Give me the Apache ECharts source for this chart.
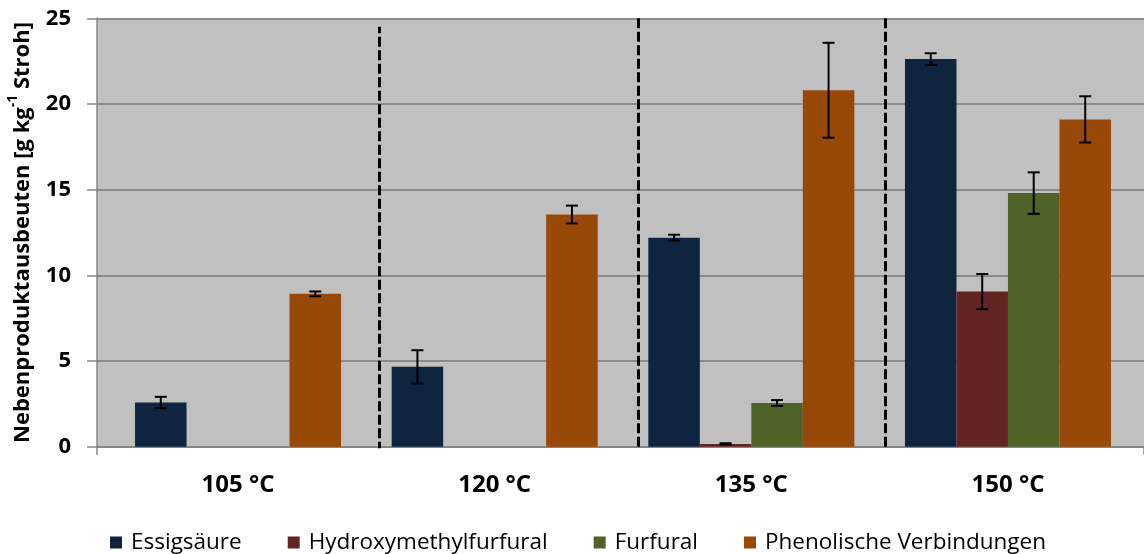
<!DOCTYPE html>
<html>
<head>
<meta charset="utf-8">
<script src="https://cdn.jsdelivr.net/npm/echarts@6/dist/echarts.min.js"></script>
<style>html,body{margin:0;padding:0;background:#fff}#c{width:1144px;height:554px}</style>
</head>
<body>
<div id="c"></div>
<script>
// ---- data ----
const categories = ['105 °C', '120 °C', '135 °C', '150 °C'];
const seriesNames = ['Essigsäure', 'Hydroxymethylfurfural', 'Furfural', 'Phenolische Verbindungen'];
const essig = [2.58, 4.66, 12.2, 22.62];
const hmf = [0, 0, 0.16, 9.05];
const furfural = [0, 0, 2.55, 14.8];
const phenol = [8.92, 13.55, 20.8, 19.1];
const errEssig = [0.33, 0.97, 0.17, 0.34];
const errHmf = [null, null, 0.04, 1.03];
const errFurfural = [null, null, 0.17, 1.21];
const errPhenol = [0.14, 0.52, 2.77, 1.35];
const yTicks = [0, 5, 10, 15, 20, 25];
// separators between temperature groups (category units, y range)
const separators = [[1.05, -0.3, 24.5], [2.06, 0, 25.2], [3.02, 0, 25.2]];

const colors = ['#0F243E', '#632523', '#4F6228', '#984807'];
const values = [essig, hmf, furfural, phenol];
const errors = [errEssig, errHmf, errFurfural, errPhenol];
const BW = 51.5;
const FONT = '"Open Sans", "Noto Sans", sans-serif';

const chart = echarts.init(document.getElementById('c'), null, {renderer: 'canvas'});

const series = [];
values.forEach((v, i) => {
  series.push({
    name: seriesNames[i], type: 'bar', xAxisIndex: 1, yAxisIndex: 1,
    data: v, barWidth: BW, barGap: '0%',
    itemStyle: {color: colors[i]}, z: 3, silent: true
  });
});
errors.forEach((e, i) => {
  const d = [];
  e.forEach((err, c) => { if (err !== null) d.push([c, values[i][c], err]); });
  series.push({
    type: 'custom', xAxisIndex: 1, yAxisIndex: 1, z: 5, silent: true,
    data: d,
    renderItem: function (params, api) {
      const c = api.value(0), v = api.value(1), er = api.value(2);
      const off = (i - 1.5) * BW;
      const top = api.coord([c, v + er]);
      const bot = api.coord([c, v - er]);
      const x = top[0] + off;
      const cap = 6;
      const st = {stroke: '#000', lineWidth: 2};
      return {type: 'group', children: [
        {type: 'line', shape: {x1: x, y1: top[1], x2: x, y2: bot[1]}, style: st},
        {type: 'line', shape: {x1: x - cap, y1: top[1], x2: x + cap, y2: top[1]}, style: st},
        {type: 'line', shape: {x1: x - cap, y1: bot[1], x2: x + cap, y2: bot[1]}, style: st}
      ]};
    }
  });
});
series.push({
  type: 'lines', coordinateSystem: 'cartesian2d', xAxisIndex: 2, yAxisIndex: 1,
  silent: true, z: 4,
  lineStyle: {color: '#000', width: 3, type: [10, 3.5], opacity: 1},
  data: separators.map(s => ({coords: [[s[0], s[1]], [s[0], s[2]]]}))
});

const option = {
  animation: false,
  backgroundColor: '#fff',
  grid: [
    {left: 97, right: 0, top: 18.3, bottom: 107.3, show: true, backgroundColor: '#C0C0C0', borderWidth: 0,
      containLabel: false, outerBoundsMode: 'none'},
    {left: 109.7, right: 7.7, top: 18.3, bottom: 107.3, containLabel: false, outerBoundsMode: 'none'}
  ],
  legend: {
    data: seriesNames, left: 105, top: 526, icon: 'rect', itemWidth: 12, itemHeight: 12,
    itemGap: 46, textStyle: {fontFamily: FONT, fontSize: 22.5, color: '#000', padding: [0, 0, 0, 4]}
  },
  xAxis: [
    {type: 'value', gridIndex: 0, min: 0, max: 1, interval: 1, axisLabel: {show: false}, splitLine: {show: false},
      axisLine: {show: true, lineStyle: {color: '#868686', width: 2}},
      axisTick: {show: true, length: 8, lineStyle: {color: '#868686', width: 1.5}}},
    {type: 'category', gridIndex: 1, data: categories, axisLine: {show: false}, axisTick: {show: false},
      axisLabel: {fontFamily: FONT, fontSize: 24, fontWeight: 'bold', color: '#000', margin: 26}},
    {type: 'value', gridIndex: 1, min: 0, max: 4, show: false}
  ],
  yAxis: [
    {type: 'value', gridIndex: 0, min: 0, max: 25, interval: 5,
      axisLine: {show: true, lineStyle: {color: '#868686', width: 1.5}},
      axisTick: {show: true, length: 10, inside: false, lineStyle: {color: '#868686', width: 1.5}},
      splitLine: {show: true, lineStyle: {color: '#8B8B8B', width: 2}},
      axisLabel: {fontFamily: FONT, fontSize: 22, fontWeight: 'bold', color: '#000', margin: 26,
        formatter: v => yTicks.indexOf(v) >= 0 ? String(v) : ''},
      name: '{a|Nebenproduktausbeuten [g kg}{s|-1}{a| Stroh]}',
      nameLocation: 'middle', nameRotate: 90, nameGap: 63,
      nameTextStyle: {color: '#000', rich: {
        a: {fontFamily: FONT, fontSize: 22, fontWeight: 'bold', color: '#000', lineHeight: 28, verticalAlign: 'bottom'},
        s: {fontFamily: FONT, fontSize: 14, fontWeight: 'bold', color: '#000', lineHeight: 28, verticalAlign: 'top', padding: [0, 0, 7, 0]}
      }}},
    {type: 'value', gridIndex: 1, min: 0, max: 25, interval: 5, show: false}
  ],
  series: series
};
chart.setOption(option);
</script>
</body>
</html>
